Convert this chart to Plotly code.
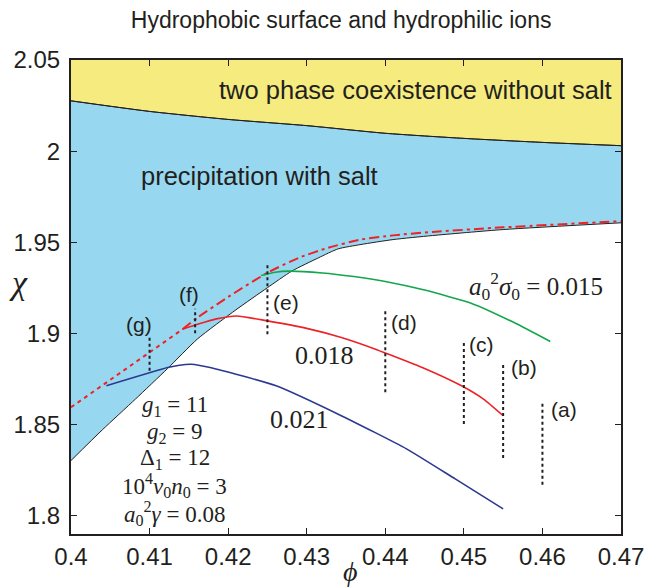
import plotly.graph_objects as go

# --- phase boundaries -------------------------------------------------------
# upper boundary: two-phase coexistence without salt
PHI_TOP = [0.400, 0.410, 0.420, 0.430, 0.440, 0.450, 0.460, 0.470]
CHI_TOP = [2.0276, 2.0218, 2.0174, 2.0140, 2.0098, 2.0070, 2.0048, 2.0030]

# lower boundary: precipitation with salt
PHI_LOW = [0.4000, 0.4040, 0.4082, 0.4123, 0.4161, 0.4210, 0.4250, 0.4281,
           0.4315, 0.4340, 0.4369, 0.4410, 0.4460, 0.4550, 0.4700]
CHI_LOW = [1.8303, 1.8472, 1.8640, 1.8808, 1.8970, 1.9130, 1.9251, 1.9342,
           1.9415, 1.9464, 1.9488, 1.9515, 1.9537, 1.9570, 1.9607]

# red limit line: dotted part and dash-dot part
PHI_RED_DOT = [0.4000, 0.4070, 0.4142]
CHI_RED_DOT = [1.8595, 1.8805, 1.9023]
PHI_RED_DD = [0.4142, 0.4161, 0.4200, 0.4250, 0.4290, 0.4327, 0.4369,
              0.4410, 0.4460, 0.4550, 0.4700]
CHI_RED_DD = [1.9023, 1.9087, 1.9200, 1.9333, 1.9415, 1.9470, 1.9515,
              1.9538, 1.9557, 1.9582, 1.9616]

# --- curves for three surface charge densities a0^2 sigma0 -----------------
PHI_015 = [0.4242, 0.4260, 0.4277, 0.4320, 0.4360, 0.4400, 0.4450,
           0.4510, 0.4560, 0.4610]
CHI_015 = [1.9318, 1.9336, 1.9342, 1.9332, 1.9312, 1.9285, 1.9238,
           1.9165, 1.9068, 1.8956]

PHI_018 = [0.4142, 0.4161, 0.4185, 0.4211, 0.4250, 0.4300, 0.4344,
           0.4385, 0.4400, 0.4450, 0.4497, 0.4525, 0.4550]
CHI_018 = [1.9023, 1.9050, 1.9080, 1.9096, 1.9069, 1.9028, 1.8978,
           1.8918, 1.8893, 1.8808, 1.8713, 1.8640, 1.8549]

PHI_021 = [0.4045, 0.4123, 0.4138, 0.4153, 0.4177, 0.4261, 0.4344,
           0.4427, 0.4489, 0.4550]
CHI_021 = [1.8713, 1.8813, 1.8826, 1.8831, 1.8813, 1.8713, 1.8549,
           1.8367, 1.8202, 1.8038]

# --- vertical markers (a)-(g) ----------------------------------------------
MARK_TXT = ["(a)", "(b)", "(c)", "(d)", "(e)", "(f)", "(g)"]
MARK_PHI = [0.4600, 0.4550, 0.4500, 0.4400, 0.4250, 0.4158, 0.4100]
MARK_LO = [1.8170, 1.8317, 1.8503, 1.8677, 1.8996, 1.9001, 1.8795]
MARK_HI = [1.8622, 1.8844, 1.8950, 1.9123, 1.9379, 1.9136, 1.8978]

# --- axes ------------------------------------------------------------------
X_TICKS = [0.40, 0.41, 0.42, 0.43, 0.44, 0.45, 0.46, 0.47]
X_TICKTEXT = ["0.4", "0.41", "0.42", "0.43", "0.44", "0.45", "0.46", "0.47"]
Y_TICKS = [1.80, 1.85, 1.90, 1.95, 2.00, 2.05]
Y_TICKTEXT = ["1.8", "1.85", "1.9", "1.95", "2", "2.05"]
X_RANGE = [0.40, 0.47]
Y_RANGE = [1.79, 2.05]

INK = "#231F20"
YELLOW = "#F5EB7F"
SKY = "#97D8F0"
RED = "#EC2227"
GREEN = "#13A64B"
NAVY = "#2B3990"
SANS = "Liberation Sans, Arial, Helvetica, sans-serif"
SERIF = "Liberation Serif, Times New Roman, serif"

fig = go.Figure()

# blue band between the lower and upper boundaries
fig.add_trace(go.Scatter(x=PHI_LOW, y=CHI_LOW, mode="lines",
                         line=dict(color=INK, width=1, shape="spline",
                                   smoothing=0.6),
                         hoverinfo="skip"))
fig.add_trace(go.Scatter(x=PHI_TOP, y=CHI_TOP, mode="lines", fill="tonexty",
                         fillcolor=SKY,
                         line=dict(color=INK, width=1, shape="spline",
                                   smoothing=0.6),
                         hoverinfo="skip"))
# yellow band from the upper boundary to the top of the frame
fig.add_trace(go.Scatter(x=[X_RANGE[0], X_RANGE[1]],
                         y=[Y_RANGE[1], Y_RANGE[1]],
                         mode="lines", fill="tonexty", fillcolor=YELLOW,
                         line=dict(width=0), hoverinfo="skip"))
# redraw the upper boundary line on top of the fills
fig.add_trace(go.Scatter(x=PHI_TOP, y=CHI_TOP, mode="lines",
                         line=dict(color=INK, width=1, shape="spline",
                                   smoothing=0.6),
                         hoverinfo="skip"))

# red limit line
fig.add_trace(go.Scatter(x=PHI_RED_DOT, y=CHI_RED_DOT, mode="lines",
                         line=dict(color=RED, width=2, dash="4px,4px"),
                         hoverinfo="skip"))
fig.add_trace(go.Scatter(x=PHI_RED_DD, y=CHI_RED_DD, mode="lines",
                         line=dict(color=RED, width=2, shape="spline",
                                   smoothing=0.6,
                                   dash="10px,4px,3px,4px"),
                         hoverinfo="skip"))

# surface charge curves
for xs, ys, col in [(PHI_015, CHI_015, GREEN), (PHI_018, CHI_018, RED),
                    (PHI_021, CHI_021, NAVY)]:
    fig.add_trace(go.Scatter(x=xs, y=ys, mode="lines",
                             line=dict(color=col, width=1.6, shape="spline",
                                       smoothing=0.5),
                             hoverinfo="skip"))

# vertical markers
for px, lo, hi in zip(MARK_PHI, MARK_LO, MARK_HI):
    fig.add_trace(go.Scatter(x=[px, px], y=[lo, hi], mode="lines",
                             line=dict(color=INK, width=2, dash="3px,3px"),
                             hoverinfo="skip"))

annotations = []

# marker letters: (a)-(e) sit to the right, (f),(g) sit above
label_pos = [(0.46085, 1.8585, "left"), (0.45578, 1.8813, "left"),
             (0.45037, 1.8941, "left"), (0.44052, 1.9060, "left"),
             (0.42544, 1.9169, "left"), (0.41505, 1.9214, "center"),
             (0.40860, 1.9050, "center")]
for txt, (lx, ly, anc) in zip(MARK_TXT, label_pos):
    annotations.append(dict(x=lx, y=ly, text=txt, showarrow=False,
                            xanchor=anc, yanchor="middle",
                            font=dict(family=SANS, size=21, color=INK)))

# region names
annotations.append(dict(x=0.41858, y=2.0336,
                        text="two phase coexistence without salt",
                        showarrow=False, xanchor="left", yanchor="middle",
                        font=dict(family=SANS, size=25.5, color=INK)))
annotations.append(dict(x=0.4086, y=1.9862, text="precipitation with salt",
                        showarrow=False, xanchor="left", yanchor="middle",
                        font=dict(family=SANS, size=25.5, color=INK)))

# curve labels
annotations.append(dict(x=0.45037, y=1.9260,
                        text="<i>a</i><sub>0</sub><sup>2</sup><i>σ</i><sub>0</sub> = 0.015",
                        showarrow=False, xanchor="left", yanchor="middle",
                        font=dict(family=SERIF, size=25, color=INK)))
annotations.append(dict(x=0.42830, y=1.8877, text="0.018", showarrow=False,
                        xanchor="left", yanchor="middle",
                        font=dict(family=SERIF, size=26, color=INK)))
annotations.append(dict(x=0.42502, y=1.8530, text="0.021", showarrow=False,
                        xanchor="left", yanchor="middle",
                        font=dict(family=SERIF, size=26, color=INK)))

# model parameters
params = ["<i>g</i><sub>1</sub> = 11",
          "<i>g</i><sub>2</sub> = 9",
          "Δ<sub>1</sub> = 12",
          "10<sup>4</sup><i>v</i><sub>0</sub><i>n</i><sub>0</sub> = 3",
          "<i>a</i><sub>0</sub><sup>2</sup><i>γ</i> = 0.08"]
param_y = [1.8600, 1.8452, 1.8312, 1.8166, 1.8011]
for txt, py in zip(params, param_y):
    annotations.append(dict(x=0.41322, y=py, text=txt, showarrow=False,
                            xanchor="center", yanchor="middle",
                            font=dict(family=SERIF, size=23, color=INK)))

# axis symbols
annotations.append(dict(x=-0.096, y=0.53, xref="paper", yref="paper",
                        xanchor="center", yanchor="middle",
                        text="<i>χ</i>", showarrow=False,
                        font=dict(family=SERIF, size=34, color=INK)))
annotations.append(dict(x=0.509, y=-0.080, xref="paper", yref="paper",
                        xanchor="center", yanchor="middle",
                        text="<i>ϕ</i>", showarrow=False,
                        font=dict(family=SERIF, size=28, color=INK)))

axis_common = dict(showline=True, linecolor=INK, linewidth=2, mirror="ticks",
                   ticks="inside", ticklen=6, tickwidth=1, tickcolor=INK,
                   showgrid=False, zeroline=False,
                   tickfont=dict(family=SANS, size=24, color=INK))

fig.update_layout(
    width=656, height=587,
    margin=dict(l=71, r=24, t=60, b=53),
    paper_bgcolor="white", plot_bgcolor="white",
    showlegend=False,
    title=dict(text="Hydrophobic surface and hydrophilic ions",
               x=0.52, xanchor="center", y=1 - 20 / 587, yanchor="middle",
               yref="container",
               font=dict(family=SANS, size=23, color=INK)),
    xaxis=dict(range=X_RANGE, tickvals=X_TICKS, ticktext=X_TICKTEXT,
               **axis_common),
    yaxis=dict(range=Y_RANGE, tickvals=Y_TICKS, ticktext=Y_TICKTEXT,
               ticklabelstandoff=4, **axis_common),
    annotations=annotations,
)

fig.write_html("out.html")
